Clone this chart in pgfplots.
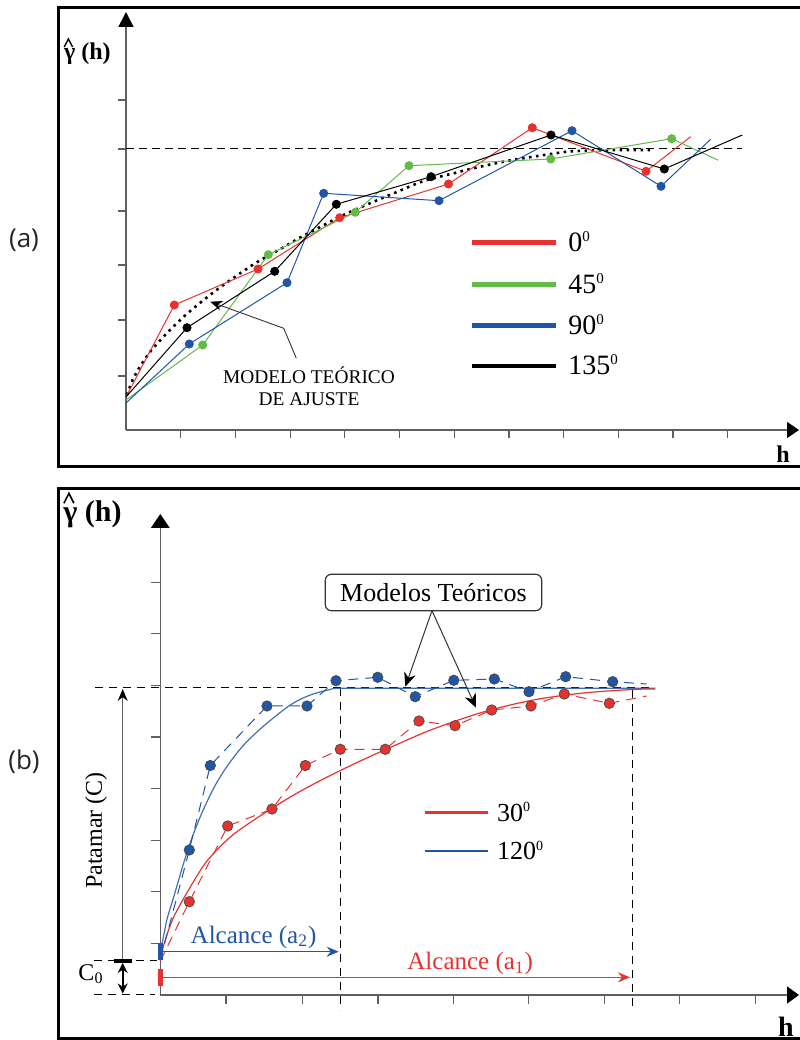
\documentclass[border=0pt]{standalone}
\usepackage{fontspec}
\setmainfont{Liberation Serif}
\newfontfamily\labelsans{Open Sans}
\usepackage{pgfplots}
\pgfplotsset{compat=1.18}
\usetikzlibrary{arrows.meta}
\definecolor{cred}{RGB}{232,50,48}
\definecolor{cgreen}{RGB}{98,187,72}
\definecolor{cblue}{RGB}{32,86,165}
\definecolor{axgray}{RGB}{95,95,95}
\newcommand{\supz}[2]{\raisebox{#2}{\fontsize{#1}{#1}\selectfont 0}}
\begin{document}
\begin{tikzpicture}[x=0.5pt,y=0.5pt]
\useasboundingbox (0,0) rectangle (799,1040);
\draw[line width=1.5pt] (58.5,1032.5) rectangle (803,573.5);
\draw[line width=1.5pt] (58.5,551.5) rectangle (803,1.5);
\node[font=\labelsans\fontsize{13}{15}\selectfont, text=black!85] at (24,800) {(a)};
\node[font=\labelsans\fontsize{13}{15}\selectfont, text=black!85] at (24,278) {(b)};

% ---------------- panel (a) ----------------
\begin{axis}[
  at={(63pt,305pt)}, anchor=south west,
  x=0.5pt, y=0.5pt, xmin=0, xmax=673, ymin=0, ymax=418,
  enlargelimits=false, clip=false,
  axis lines=left,
  axis line style={axgray, line width=0.8pt},
  x axis line style={-{Triangle[length=6pt,width=8pt,color=black]}},
  y axis line style={-{Triangle[length=7.5pt,width=7.5pt,color=black]}},
  xtick={54.7,109.4,164.1,218.8,273.5,328.2,382.9,437.6,492.3,547,601.7},
  ytick={54,110,165,219,281,330},
  xticklabels={}, yticklabels={},
  tick align=outside, major tick length=4pt,
  tick style={axgray, line width=0.6pt},
]
% sill
\addplot[black, line width=0.5pt, dash pattern=on 4pt off 2.5pt] coordinates {(0,281)(616,281)};
% theoretical model (dotted)
\addplot[black, line width=1.3pt, dash pattern=on 1.3pt off 2.2pt, smooth, tension=0.4] coordinates {
(1,35)(7,51)(15,65)(25,79.3)(36,91.7)(47.3,103.3)(59.3,114.7)(72.7,126)(85.3,136)(98.7,146)(112.7,155.7)(126,164.7)(139.3,172.7)(155,181.3)(169.3,189.7)(183.3,197.3)(221,216.7)(267.7,236.7)(297.7,249)(327.7,256.7)(347.3,261.7)(380.7,269)(407.3,273.3)(440.7,278.3)(460.7,279.3)(494,280)(527,280)};
% 0 deg
\addplot[cred, line width=0.5pt, mark=*, mark size=2pt, mark options={fill=cred, draw=cred}, mark indices={2,3,4,5,6,7}] coordinates {
(0,33)(48.3,125)(132,161)(213.7,212.3)(322.5,246)(406.3,302.3)(520,258.7)(564.7,293.3)};
% 45 deg
\addplot[cgreen, line width=0.5pt, mark=*, mark size=2pt, mark options={fill=cgreen, draw=cgreen}, mark indices={2,3,4,5,6,7}] coordinates {
(0,30)(76.7,85)(142.3,175.3)(229.3,217.7)(283,264.3)(424.7,271)(545.7,291.3)(592.3,269.7)};
% 90 deg
\addplot[cblue, line width=0.5pt, mark=*, mark size=2pt, mark options={fill=cblue, draw=cblue}, mark indices={2,3,4,5,6,7}] coordinates {
(0,27)(63.3,86)(161,147.3)(197.7,236.7)(313,229.3)(446,299.3)(535,243.7)(584.7,290.7)};
% 135 deg
\addplot[black, line width=0.5pt, mark=*, mark size=2pt, mark options={fill=black, draw=black}, mark indices={2,3,4,5,6,7}] coordinates {
(0,33)(61,102.3)(148.7,158.7)(210.3,225.7)(305,253.3)(425,295)(538.3,261)(616.3,295)};
% legend
\draw[cred, line width=2.4pt] (345.7,187.3) -- (429.7,187.3);
\draw[cgreen, line width=2.4pt] (345.7,145.7) -- (429.7,145.7);
\draw[cblue, line width=2.4pt] (345.7,104.3) -- (429.7,104.3);
\draw[black, line width=2.4pt] (345.7,64) -- (429.7,64);
\node[anchor=base west, inner sep=0pt, font=\fontsize{14}{16}\selectfont] at (442,178) {0\supz{7.5}{5.2pt}};
\node[anchor=base west, inner sep=0pt, font=\fontsize{14}{16}\selectfont] at (442,136.5) {45\supz{7.5}{5.2pt}};
\node[anchor=base west, inner sep=0pt, font=\fontsize{14}{16}\selectfont] at (442,95) {90\supz{7.5}{5.2pt}};
\node[anchor=base west, inner sep=0pt, font=\fontsize{14}{16}\selectfont] at (442,55) {135\supz{7.5}{5.2pt}};
% annotation
\draw[black!80, line width=0.45pt, -{Stealth[length=6pt,width=5pt,color=black]}] (170.3,71.7) -- (157.7,101.7) -- (84.3,128.3);
\node[align=center, inner sep=0pt, font=\fontsize{9.7}{11}\selectfont] at (183,44) {MODELO TEÓRICO\\DE AJUSTE};
% labels
\node[anchor=base west, inner sep=0pt, font=\bfseries\fontsize{12}{14}\selectfont] at (-62.3,370) {γ\ (h)};
\draw[black, line width=0.7pt] (-61.8,383) -- (-57.6,391) -- (-53.4,383);
\node[anchor=base, inner sep=0pt, font=\bfseries\fontsize{12}{14}\selectfont] at (657,-32.7) {h};
\end{axis}

% ---------------- panel (b) ----------------
\begin{axis}[
  at={(80.15pt,22.5pt)}, anchor=south west,
  x=0.5pt, y=0.5pt, xmin=0, xmax=638.7, ymin=0, ymax=481,
  enlargelimits=false, clip=false,
  axis lines=left,
  axis line style={axgray, line width=0.8pt},
  x axis line style={-{Triangle[length=6pt,width=8.5pt,color=black]}},
  y axis line style={-{Triangle[length=7pt,width=9.3pt,color=black]}},
  xtick={65.7,142.4,217.7,293.2,368,444,519,595.4},
  ytick={51.6,103.2,154.8,206.4,258,309.6,361.2,412.8},
  xticklabels={}, yticklabels={},
  tick align=outside, major tick length=4.5pt,
  tick style={axgray, line width=0.6pt},
]
% guide lines
\addplot[black, line width=0.5pt, dash pattern=on 4pt off 3pt] coordinates {(-65.3,307)(494.7,307)};
\addplot[black, line width=0.5pt, dash pattern=on 4pt off 3pt] coordinates {(180,307)(180,-15)};
\addplot[black, line width=0.5pt, dash pattern=on 4pt off 3pt] coordinates {(472,305)(472,-15)};
\addplot[black, line width=0.5pt, dash pattern=on 4pt off 3pt] coordinates {(-66.6,34.3)(-3.3,34.3)};
\addplot[black, line width=0.5pt, dash pattern=on 4pt off 3pt] coordinates {(-66.6,0.7)(-5,0.7)};
% theoretical models
\addplot[cblue!85, line width=0.6pt, smooth, tension=0.5] coordinates {
(0,35)(2,52)(4.5,65)(7,77)(13.4,98)(23.4,132)(32,158)(42,183)(54,208)(67,229)(83.4,250)(103.4,269)(130,290)(150,300)(170,305.5)(180,306.7)(250,306.7)(494.7,306.7)};
\addplot[cred, line width=0.6pt, smooth, tension=0.5] coordinates {
(0,34.3)(4,52)(13.4,78)(30,108)(46.7,134)(70,158)(96.7,177)(130,198)(163,216)(200,234)(240,252)(273,266)(323,283)(373,295)(423,302)(472,305.5)(495,306)};
% experimental semivariograms
\addplot[cblue, line width=0.5pt, dash pattern=on 5pt off 3.5pt, mark=*, mark size=2.6pt, mark options={solid, fill=cblue, draw=black!70, line width=0.4pt}, mark indices={2,3,4,5,6,7,8,9,10,11,12,13}] coordinates {
(0,35)(29,145)(50,229.5)(106.7,289)(146.7,289)(175.7,314.3)(217.4,317.7)(254.9,298.3)(293.5,314.7)(334,316)(368.7,303.3)(405.4,318.3)(452.4,313.3)(486.4,311)};
\addplot[cred, line width=0.5pt, dash pattern=on 5pt off 3.5pt, mark=*, mark size=2.6pt, mark options={solid, fill=cred, draw=black!70, line width=0.4pt}, mark indices={2,3,4,5,6,7,8,9,10,11,12,13}] coordinates {
(0,34)(29,93.3)(67.4,169)(111.7,186)(145,229.5)(180,245.7)(225,245.7)(258.7,274)(294.7,269.3)(331.4,285)(370.7,289)(404,301)(449,291.7)(486.4,299)};
% bars at origin
\draw[cblue, line width=2.5pt] (0,35) -- (0,51.7);
\draw[cred, line width=2.5pt] (0,9) -- (0,25.7);
% sill / nugget arrows
\draw[black!60, line width=0.7pt, -{Stealth[length=6pt,width=5pt,color=black]}] (-37.6,34.3) -- (-37.6,306);
\draw[black, line width=2pt] (-46.6,34.3) -- (-28.3,34.3);
\draw[black, line width=0.9pt, {Stealth[length=5pt,width=5pt]}-{Stealth[length=5pt,width=5pt]}] (-37.6,32) -- (-37.6,1.5);
\node[rotate=90, inner sep=0pt, font=\fontsize{12}{14}\selectfont] at (-64.3,164.5) {Patamar (C)};
\node[inner sep=0pt, font=\fontsize{12}{14}\selectfont] at (-69.3,21) {C\textsubscript{0}};
% ranges
\draw[cblue, line width=0.6pt, -{Stealth[length=6pt,width=5pt,inset=2pt]}] (2.7,43.3) -- (178.4,43.3);
\node[anchor=base west, inner sep=0pt, text=cblue, font=\fontsize{12.5}{14}\selectfont] at (30,52) {Alcance (a\textsubscript{2})};
\draw[cred, line width=0.6pt, -{Stealth[length=6pt,width=5pt,inset=2pt]}] (1.4,17.7) -- (469.7,17.7);
\node[anchor=base west, inner sep=0pt, text=cred, font=\fontsize{12.5}{14}\selectfont] at (246.7,25) {Alcance (a\textsubscript{1})};
% legend
\draw[cred, line width=1.2pt] (264.7,182.3) -- (328,182.3);
\draw[cblue, line width=1.2pt] (264.7,144) -- (328,144);
\node[anchor=base west, inner sep=0pt, font=\fontsize{13}{15}\selectfont] at (336.4,173.5) {30\supz{7}{4.8pt}};
\node[anchor=base west, inner sep=0pt, font=\fontsize{13}{15}\selectfont] at (336.4,135.2) {120\supz{7}{4.8pt}};
% callout
\node[draw=black!80, rounded corners=3pt, line width=0.6pt, minimum width=108.2pt, minimum height=18.2pt, inner sep=0pt, font=\fontsize{13}{15}\selectfont] (box) at (273.2,402.5) {Modelos Teóricos};
\draw[black!80, line width=0.5pt, -{Stealth[length=7pt,width=6pt,color=black]}] (271.7,384.3) -- (245,308.3);
\draw[black!80, line width=0.5pt, -{Stealth[length=7pt,width=6pt,color=black]}] (271.7,384.3) -- (315.7,287.3);
% labels
\node[anchor=base west, inner sep=0pt, font=\bfseries\fontsize{15}{17}\selectfont] at (-97.3,473) {γ\ (h)};
\draw[black, line width=0.8pt] (-96.4,491.7) -- (-91.4,501.7) -- (-86.4,491.7);
\node[anchor=base, inner sep=0pt, font=\bfseries\fontsize{14}{16}\selectfont] at (625.5,-41) {h};
\end{axis}
\end{tikzpicture}
\end{document}
